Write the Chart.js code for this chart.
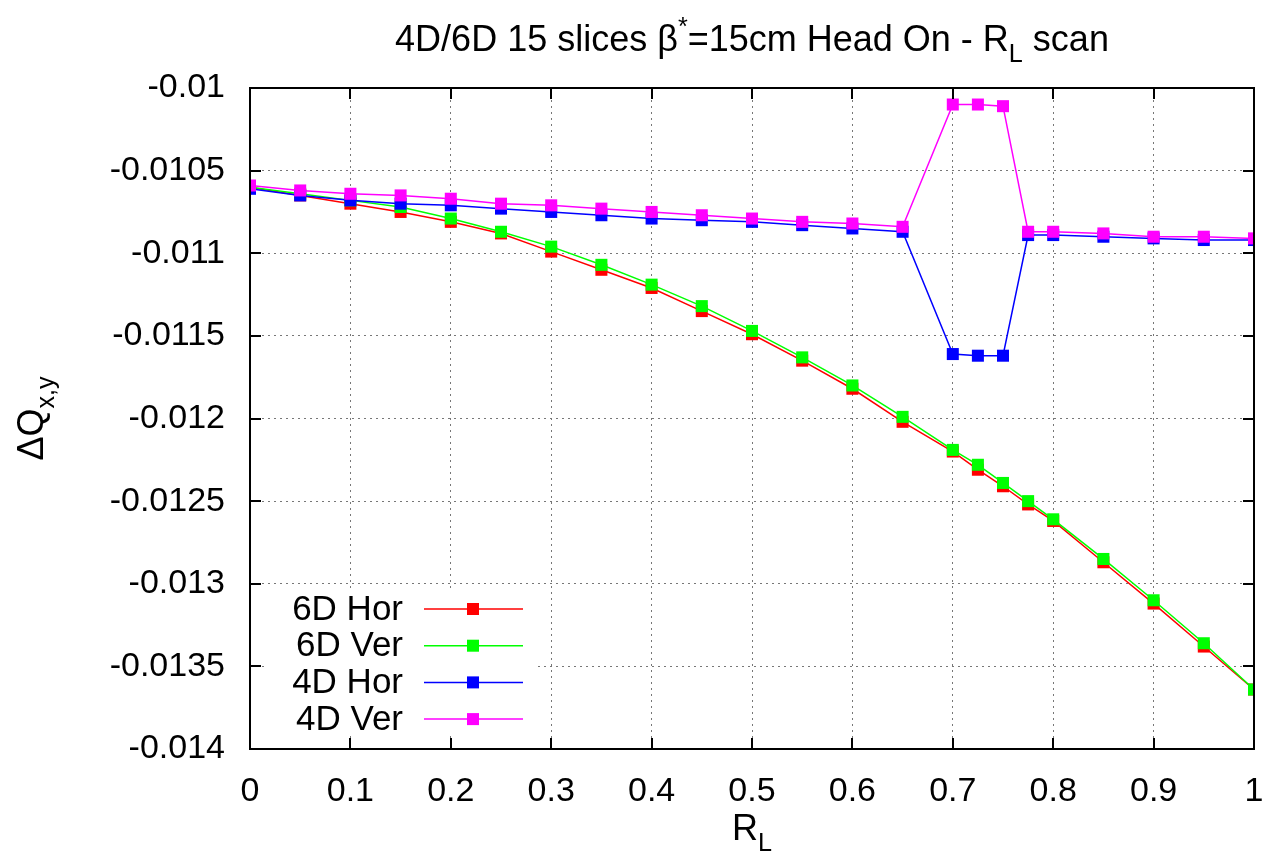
<!DOCTYPE html>
<html>
<head>
<meta charset="utf-8">
<script src="https://cdn.jsdelivr.net/npm/chart.js@4.4.0/dist/chart.umd.min.js"></script>
<style>
  html, body { margin: 0; padding: 0; background: #fff; }
  #wrap { width: 1268px; height: 861px; }
</style>
</head>
<body>
<div id="wrap"><canvas id="scan"></canvas></div>
<script>
// R_L scan points
const rL = [0, 0.05, 0.1, 0.15, 0.2, 0.25, 0.3, 0.35, 0.4, 0.45, 0.5, 0.55, 0.6, 0.65,
            0.7, 0.725, 0.75, 0.775, 0.8, 0.85, 0.9, 0.95, 1.0];

// tune shifts per model / plane
const hor6D = [-0.01060, -0.01065, -0.01070, -0.01075, -0.01081, -0.01088, -0.01099, -0.01110,
               -0.01121, -0.01135, -0.01149, -0.01165, -0.01182, -0.01202, -0.01220, -0.01231,
               -0.01241, -0.01252, -0.01262, -0.01287, -0.01312, -0.01338, -0.01364];
const ver6D = [-0.01060, -0.01064, -0.01068, -0.01072, -0.01079, -0.01087, -0.01096, -0.01107,
               -0.01119, -0.01132, -0.01147, -0.01163, -0.01180, -0.01199, -0.01219, -0.01228,
               -0.01239, -0.01250, -0.01261, -0.01285, -0.01310, -0.01336, -0.01364];
const hor4D = [-0.01061, -0.01065, -0.01068, -0.01070, -0.01071, -0.01073, -0.01075, -0.01077,
               -0.01079, -0.01080, -0.01081, -0.01083, -0.01085, -0.01087, -0.01161, -0.01162,
               -0.01162, -0.01089, -0.01089, -0.01090, -0.01091, -0.01092, -0.01092];
const ver4D = [-0.01059, -0.01062, -0.01064, -0.01065, -0.01067, -0.01070, -0.01071, -0.01073,
               -0.01075, -0.01077, -0.01079, -0.01081, -0.01082, -0.01084, -0.01010, -0.01010,
               -0.01011, -0.01087, -0.01087, -0.01088, -0.01090, -0.01090, -0.01091];

const seriesNames = ['6D Hor', '6D Ver', '4D Hor', '4D Ver'];
const seriesColors = ['#ff0000', '#00ff00', '#0000ff', '#ff00ff'];
const seriesValues = [hor6D, ver6D, hor4D, ver4D];

const FONT = '"Liberation Sans", Arial, sans-serif';

function makeSet(i) {
    return {
        label: seriesNames[i],
        data: rL.map((x, k) => ({ x: x, y: seriesValues[i][k] })),
        borderColor: seriesColors[i],
        backgroundColor: seriesColors[i],
        borderWidth: 1.5,
        pointStyle: 'rect',
        pointRadius: 8.5,
        pointBorderWidth: 0,
        tension: 0,
        order: 4 - i
    };
}

// draws a run of text pieces with sub/superscripts
function drawRich(ctx, parts, x, y, size, align) {
    const pieces = parts.map(p => {
        const s = p.sub || p.sup ? size * 0.7 : size;
        ctx.font = s + 'px ' + FONT;
        return { t: p.t, s: s, w: ctx.measureText(p.t).width, dy: p.sub ? size * 0.3 : (p.sup ? -size * 0.45 : 0) };
    });
    const total = pieces.reduce((a, p) => a + p.w, 0);
    let cx = align === 'center' ? x - total / 2 : (align === 'right' ? x - total : x);
    ctx.textAlign = 'left';
    ctx.textBaseline = 'alphabetic';
    ctx.fillStyle = '#000';
    pieces.forEach(p => {
        ctx.font = p.s + 'px ' + FONT;
        ctx.fillText(p.t, cx, y + p.dy);
        cx += p.w;
    });
}

const framePlugin = {
    id: 'frame',
    afterDatasetsDraw(chart) {
        const ctx = chart.ctx;
        const a = chart.chartArea;
        ctx.save();

        // opaque key box
        ctx.fillStyle = '#fff';
        ctx.fillRect(264, 590, 272, 146);

        // key entries: label, then line sample with marker
        chart.data.datasets.forEach((ds, i) => {
            const y = 609 + i * 36.7;
            ctx.font = '35px ' + FONT;
            ctx.fillStyle = '#000';
            ctx.textAlign = 'right';
            ctx.textBaseline = 'middle';
            ctx.fillText(ds.label, 403, y + 1);
            ctx.strokeStyle = ds.borderColor;
            ctx.lineWidth = 1.5;
            ctx.beginPath();
            ctx.moveTo(424, y);
            ctx.lineTo(523, y);
            ctx.stroke();
            ctx.fillStyle = ds.borderColor;
            ctx.fillRect(473 - 6, y - 6, 12, 12);
        });

        // inward tick marks
        ctx.strokeStyle = '#000';
        ctx.lineWidth = 2;
        chart.scales.y.ticks.forEach(t => {
            const py = Math.round(chart.scales.y.getPixelForValue(t.value));
            ctx.beginPath();
            ctx.moveTo(a.left, py); ctx.lineTo(a.left + 11, py);
            ctx.moveTo(a.right, py); ctx.lineTo(a.right - 11, py);
            ctx.stroke();
        });
        chart.scales.x.ticks.forEach(t => {
            const px = Math.round(chart.scales.x.getPixelForValue(t.value));
            ctx.beginPath();
            ctx.moveTo(px, a.bottom); ctx.lineTo(px, a.bottom - 11);
            ctx.moveTo(px, a.top); ctx.lineTo(px, a.top + 11);
            ctx.stroke();
        });

        // plot frame
        ctx.lineWidth = 2;
        ctx.strokeRect(a.left, a.top, a.right - a.left, a.bottom - a.top);

        // title and axis titles
        drawRich(ctx, [
            { t: '4D/6D 15 slices \u03b2' }, { t: '*', sup: true },
            { t: '=15cm Head On - R' }, { t: 'L', sub: true }, { t: ' scan' }
        ], (a.left + a.right) / 2, 51, 36, 'center');

        drawRich(ctx, [{ t: 'R' }, { t: 'L', sub: true }], (a.left + a.right) / 2, 840, 36, 'center');

        ctx.translate(43, (a.top + a.bottom) / 2);
        ctx.rotate(-Math.PI / 2);
        drawRich(ctx, [{ t: '\u0394Q' }, { t: 'x,y', sub: true }], 0, 0, 36, 'center');

        ctx.restore();
    }
};

new Chart(document.getElementById('scan'), {
    type: 'line',
    data: { datasets: [0, 1, 2, 3].map(makeSet) },
    options: {
        responsive: true,
        maintainAspectRatio: false,
        animation: false,
        layout: { padding: { left: 0, right: 14, top: 88, bottom: 0 } },
        plugins: { legend: { display: false }, tooltip: { enabled: false } },
        scales: {
            x: {
                type: 'linear',
                min: 0,
                max: 1,
                ticks: {
                    stepSize: 0.1,
                    color: '#000',
                    padding: 22,
                    maxRotation: 0,
                    font: { family: FONT, size: 34 },
                    callback: v => String(+v.toFixed(2))
                },
                grid: { color: '#777', lineWidth: 1, drawTicks: false },
                border: { display: false, dash: [2, 4] },
                afterFit: s => { s.height = 112; s.paddingLeft = 0; s.paddingRight = 0; }
            },
            y: {
                min: -0.014,
                max: -0.01,
                ticks: {
                    stepSize: 0.0005,
                    color: '#000',
                    padding: 25,
                    font: { family: FONT, size: 34 },
                    callback: v => String(+v.toFixed(4))
                },
                grid: { color: '#777', lineWidth: 1, drawTicks: false },
                border: { display: false, dash: [2, 4] },
                afterFit: s => { s.width = 250; s.paddingTop = 0; s.paddingBottom = 0; }
            }
        }
    },
    plugins: [framePlugin]
});
</script>
</body>
</html>
